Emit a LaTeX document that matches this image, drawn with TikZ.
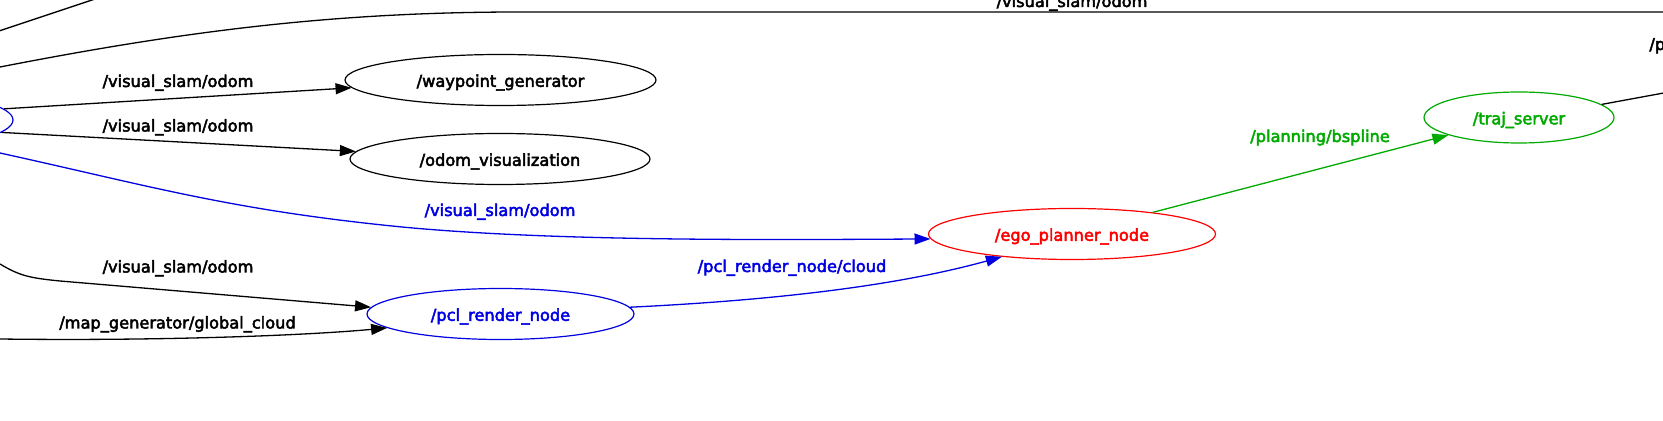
\documentclass[tikz,border=0pt]{standalone}
\usepackage{fontspec}
\setmainfont{DejaVu Sans}[FakeBold=3]
\usetikzlibrary{shapes.geometric,arrows.meta}
\definecolor{gvblue}{RGB}{0,0,225}
\definecolor{gvgreen}{RGB}{0,170,0}
\definecolor{gvred}{RGB}{255,0,0}
\begin{document}
\begin{tikzpicture}[x=0.5pt,y=-0.5pt,
  font=\fontsize{8.1pt}{9pt}\selectfont,
  gvnode/.style={ellipse,draw,line width=0.6pt,inner sep=0pt,minimum height=25.5pt,text height=7.8pt,text depth=1pt},
  conn/.style={line width=0.65pt},
  arr/.style={conn,-{Triangle[length=8pt,width=5.5pt]}},
  lab/.style={anchor=base,inner sep=0pt}]
\useasboundingbox (0,0) rectangle (1663,421);
\clip (0,0) rectangle (1663,421);
% nodes
\node[gvnode,draw=gvblue,minimum width=100pt] (L) at (-87,120) {};
\node[gvnode,minimum width=155.5pt] (wp) at (500.5,80) {/waypoint\_generator};
\node[gvnode,minimum width=150pt] (ov) at (500,159) {/odom\_visualization};
\node[gvnode,draw=gvblue,text=gvblue,minimum width=133.5pt] (pcl) at (500.5,314) {/pcl\_render\_node};
\node[gvnode,draw=gvred,text=gvred,minimum width=143.5pt] (ego) at (1072,234) {/ego\_planner\_node};
\node[gvnode,draw=gvgreen,text=gvgreen,minimum width=95pt] (ts) at (1519,117.5) {/traj\_server};
% free ends
\coordinate (u0) at (-10,34);
\coordinate (u1) at (95,-1);
\coordinate (t0) at (0,67);
\coordinate (t1) at (1680,12);
\coordinate (b0) at (0,153);
\coordinate (c0) at (0,264);
\coordinate (d0) at (0,339);
\coordinate (e1) at (1680,90);
% connectors
\draw[conn] (u0) -- (u1);
\draw[conn] (t0) .. controls (180,32) and (330,12) .. (520,12) -- (t1);
\draw[arr] (L.7) -- (wp.183);
\draw[arr] (L.-8) -- (ov.177.5);
\draw[arr,gvblue] (b0) .. controls (150,186) and (230,210) .. (402,227) .. controls (550,241) and (750,240) .. (ego.182);
\draw[arr] (c0) .. controls (20,276) and (30,278) .. (60,281) -- (pcl.177);
\draw[arr] (d0) .. controls (150,341) and (300,336) .. (pcl.187);
\draw[arr,gvblue] (pcl.3) .. controls (780,300) and (900,285) .. (ego.198);
\draw[arr,gvgreen] (ego.15) -- (ts.194);
\draw[conn] (ts.9) -- (e1);
% labels
\node[lab] (l0) at (1072,7) {/visual\_slam/odom};
\node[lab] (l1) at (178,87) {/visual\_slam/odom};
\node[lab] (l2) at (178,131.5) {/visual\_slam/odom};
\node[lab,text=gvblue] (l3) at (500,216) {/visual\_slam/odom};
\node[lab] (l4) at (178,272.5) {/visual\_slam/odom};
\node[lab] (l5) at (177.5,328.5) {/map\_generator/global\_cloud};
\node[lab,text=gvblue] (l6) at (792,272) {/pcl\_render\_node/cloud};
\node[lab,text=gvgreen] (l7) at (1320,142) {/planning/bspline};
\node[lab,anchor=base west] (l8) at (1649,50) {/p};
\end{tikzpicture}
\end{document}
